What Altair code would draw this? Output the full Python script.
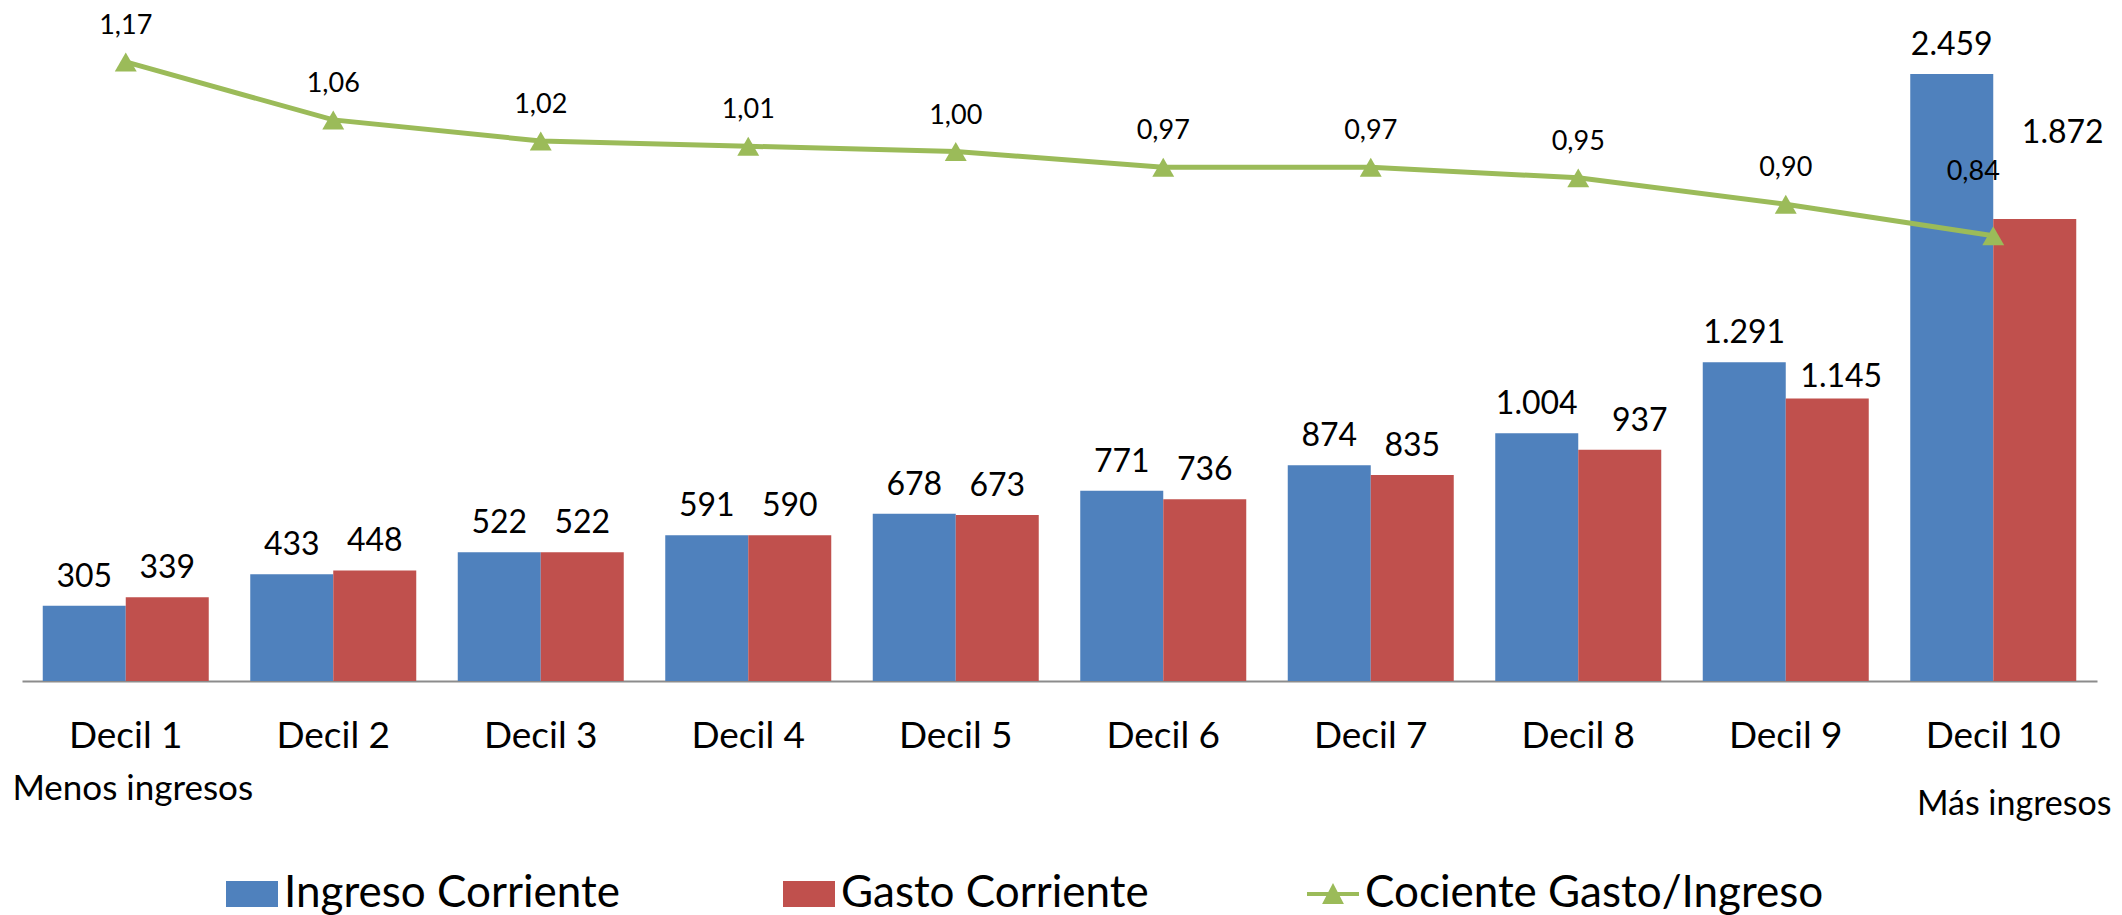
import altair as alt
import pandas as pd

# ---------------- data ----------------
deciles = ["Decil 1", "Decil 2", "Decil 3", "Decil 4", "Decil 5",
           "Decil 6", "Decil 7", "Decil 8", "Decil 9", "Decil 10"]
ingreso = [305, 433, 522, 591, 678, 771, 874, 1004, 1291, 2459]
gasto = [339, 448, 522, 590, 673, 736, 835, 937, 1145, 1872]
cociente = [1.17, 1.06, 1.02, 1.01, 1.00, 0.97, 0.97, 0.95, 0.90, 0.84]
series = ["Ingreso Corriente", "Gasto Corriente"]
line_name = "Cociente Gasto/Ingreso"
extremes = ["Decil 1", "Decil 10"]
extreme_labels = ["Menos ingresos", "Más ingresos"]

bar_colors = ["#4F81BD", "#C0504D"]
line_color = "#9BBB59"
FONT = "Lato"

bars_df = pd.DataFrame({
    "decil": deciles * 2,
    "serie": [s for s in series for _ in deciles],
    "valor": ingreso + gasto,
})
line_df = pd.DataFrame({"decil": deciles, "cociente": cociente})
ann_df = pd.DataFrame({"decil": extremes, "texto": extreme_labels})

# ---------------- layout ----------------
W, H = 2075, 641

x_enc = alt.X(
    "decil:N",
    scale=alt.Scale(domain=deciles, paddingInner=0.2, paddingOuter=0.1),
    axis=alt.Axis(title=None, labelAngle=0, ticks=False, grid=False,
                  domainColor="#8C8C8C", domainWidth=2,
                  labelFontSize=37, labelFont=FONT, labelColor="black",
                  labelBaseline="alphabetic", labelPadding=66),
)
xoff = alt.XOffset("serie:N", scale=alt.Scale(domain=series, paddingInner=0, paddingOuter=0))
yb = alt.Y("valor:Q", scale=alt.Scale(domain=[0, 2597], nice=False, zero=False), axis=None)
yl = alt.Y("cociente:Q", scale=alt.Scale(domain=[-0.0047, 1.2116], nice=False, zero=False), axis=None)

bar_legend = alt.Legend(
    title=None, orient="none", legendX=204, legendY=828, direction="horizontal",
    symbolType="M-1,-0.5H1V0.5H-1Z", symbolSize=2704, symbolStrokeWidth=0,
    labelFontSize=44, labelFont=FONT, labelColor="black", labelOffset=6,
    labelLimit=1000, columnPadding=163, padding=0,
)
line_legend = alt.Legend(
    title=None, orient="none", legendX=1285, legendY=828, direction="horizontal",
    symbolType="M-1,-0.08H1V0.08H-1Z M-0.42,0.38L0,-0.42L0.42,0.38Z",
    symbolSize=2704, symbolStrokeWidth=0,
    labelFontSize=44, labelFont=FONT, labelColor="black", labelOffset=6,
    labelLimit=1000, padding=0,
)

bars = alt.Chart(bars_df).mark_bar().encode(
    x=x_enc, xOffset=xoff, y=yb,
    color=alt.Color("serie:N", scale=alt.Scale(domain=series, range=bar_colors), legend=bar_legend),
)

lab_base = alt.Chart(bars_df).transform_calculate(
    txt="replace(format(datum.valor, ',.0f'), ',', '.')"
)
# manual label nudges (as in the original chart)
special = [("Decil 8", "Gasto Corriente", 20, -19),
           ("Decil 9", "Gasto Corriente", 14, -11),
           ("Decil 10", "Gasto Corriente", 28, -76)]
cond = " || ".join(f"(datum.decil == '{d}' && datum.serie == '{s}')" for d, s, _, _ in special)

bar_labels = [lab_base.transform_filter(f"!({cond})").mark_text(
    fontSize=32, font=FONT, color="black", baseline="alphabetic", dy=-19
).encode(x=x_enc, xOffset=xoff, y=yb, text="txt:N")]
for d, s, dx, dy in special:
    bar_labels.append(
        lab_base.transform_filter(f"datum.decil == '{d}' && datum.serie == '{s}'").mark_text(
            fontSize=32, font=FONT, color="black", baseline="alphabetic", dx=dx, dy=dy
        ).encode(x=x_enc, xOffset=xoff, y=yb, text="txt:N")
    )

line_base = alt.Chart(line_df).transform_calculate(
    serie=f"'{line_name}'",
    txt="replace(format(datum.cociente, '.2f'), '.', ',')",
)
line = line_base.mark_line(color=line_color, strokeWidth=5).encode(x=x_enc, y=yl)
points = line_base.mark_point(shape="triangle-up", filled=True, size=480, opacity=1).encode(
    x=x_enc, y=yl,
    color=alt.Color("serie:N", scale=alt.Scale(domain=[line_name], range=[line_color]), legend=line_legend),
)
line_labels = line_base.transform_filter("datum.decil != 'Decil 10'").mark_text(
    fontSize=27, font=FONT, color="black", baseline="alphabetic", dy=-28
).encode(x=x_enc, y=yl, text="txt:N")
line_label_last = line_base.transform_filter("datum.decil == 'Decil 10'").mark_text(
    fontSize=27, font=FONT, color="black", baseline="alphabetic", dx=-20, dy=-56
).encode(x=x_enc, y=yl, text="txt:N")

ann_low = alt.Chart(ann_df).transform_filter("datum.decil == 'Decil 1'").mark_text(
    fontSize=35, font=FONT, color="black", baseline="alphabetic", dx=7
).encode(x=x_enc, y=alt.value(760), text="texto:N")
ann_high = alt.Chart(ann_df).transform_filter("datum.decil == 'Decil 10'").mark_text(
    fontSize=34, font=FONT, color="black", baseline="alphabetic", dx=21
).encode(x=x_enc, y=alt.value(775), text="texto:N")

chart = alt.layer(
    bars, *bar_labels, line, points, line_labels, line_label_last, ann_low, ann_high
).resolve_scale(
    y="independent", color="independent"
).properties(
    width=W, height=H,
    autosize=alt.AutoSizeParams(type="none"),
    padding={"left": 14, "top": 32, "right": 17, "bottom": 234},
).configure(
    font=FONT,
).configure_view(stroke=None)

chart.save("out.html", embed_options={"renderer": "svg", "actions": False})
